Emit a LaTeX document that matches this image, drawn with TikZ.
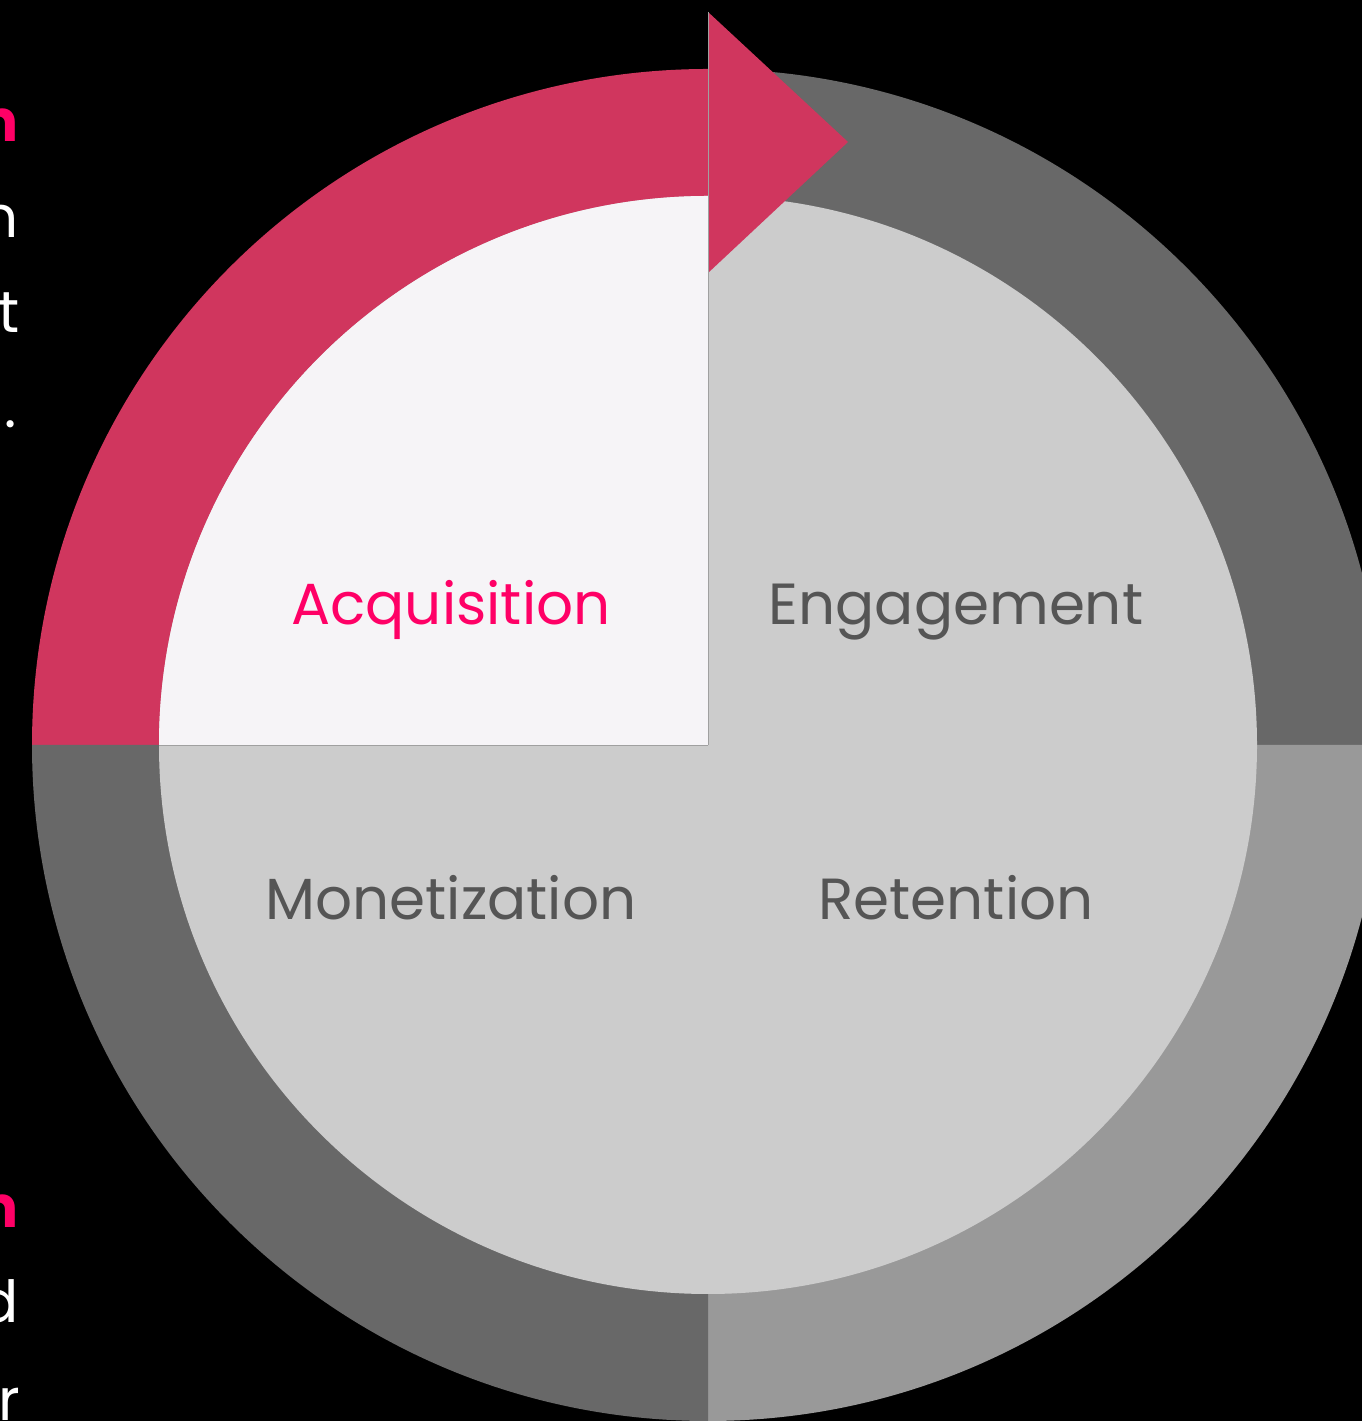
\documentclass[tikz,border=0pt]{standalone}
\usepackage{fontspec}
\setmainfont{Poppins}
\definecolor{ringpink}{HTML}{D0365E}
\definecolor{textpink}{HTML}{FF0066}
\definecolor{ringdark}{HTML}{686868}
\definecolor{ringlight}{HTML}{999999}
\definecolor{innergray}{HTML}{CCCCCC}
\definecolor{innerwhite}{HTML}{F6F4F7}
\definecolor{labelgray}{HTML}{555555}
\definecolor{edgegray}{HTML}{A0A0A0}
\tikzset{
  quadlabel/.style={font=\fontsize{58}{66}\selectfont, anchor=base, inner sep=0pt},
  sidetext/.style={font=\fontsize{58}{66}\selectfont, anchor=base east, inner sep=0pt, text=white},
  sidepink/.style={font=\fontsize{58}{66}\selectfont\bfseries, anchor=base east, inner sep=0pt, text=textpink},
}
\begin{document}
\begin{tikzpicture}[x=1pt,y=1pt]
\useasboundingbox (0,0) rectangle (1362,1421);
\fill[black] (0,0) rectangle (1362,1421);
\clip (0,0) rectangle (1362,1421);
\coordinate (C) at (708,676);
% outer ring quadrants
\fill[ringpink] (C) -- ++(180:676) arc[start angle=180, end angle=90, radius=676] -- cycle;
\fill[ringdark] (C) -- ++(90:676) arc[start angle=90, end angle=0, radius=676] -- cycle;
\fill[ringlight] (C) -- ++(0:676) arc[start angle=0, end angle=-90, radius=676] -- cycle;
\fill[ringdark] (C) -- ++(-90:676) arc[start angle=-90, end angle=-180, radius=676] -- cycle;
% inner disc
\fill[innergray] (C) circle[radius=549];
\fill[innerwhite] (C) -- ++(180:549) arc[start angle=180, end angle=90, radius=549] -- cycle;
\draw[edgegray, line width=0.8pt] (C) -- ++(180:549);
% arrow head
\coordinate (T1) at (708,1409);
\coordinate (T2) at (848,1279);
\coordinate (T3) at (708,1148);
\fill[ringpink] (T1) -- (T2) -- (T3) -- cycle;
\coordinate (Vtop) at (708,1409);
\draw[edgegray, line width=0.8pt] (Vtop) -- (C);
% labels
\node[quadlabel, text=textpink] (acq) at (451,796) {Acquisition};
\node[quadlabel, text=labelgray] (eng) at (956,796) {Engagement};
\node[quadlabel, text=labelgray] (mon) at (451,501) {Monetization};
\node[quadlabel, text=labelgray] (ret) at (956,501) {Retention};
% clipped side text
\node[sidepink] (s1) at (19,1279) {n};
\node[sidetext] (s2) at (19,1183) {n};
\node[sidetext] (s3) at (20,1088) {t};
\node[sidetext] (s4) at (17,993) {.};
\node[sidepink] (s5) at (19,193) {n};
\node[sidetext] (s6) at (19,98) {d};
\node[sidetext] (s7) at (20,1) {r};
\end{tikzpicture}
\end{document}
